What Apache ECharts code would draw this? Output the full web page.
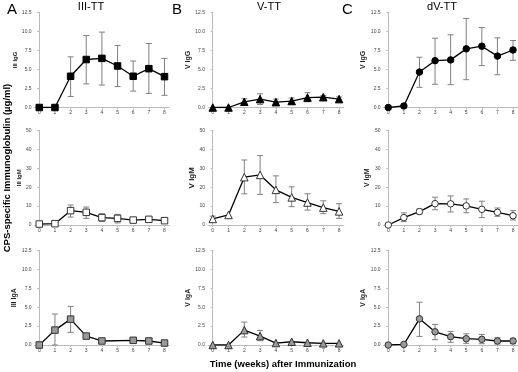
<!DOCTYPE html>
<html><head><meta charset="utf-8">
<script src="https://cdn.jsdelivr.net/npm/echarts@6/dist/echarts.min.js"></script>
<style>html,body{margin:0;padding:0;background:#fff}#c{width:518px;height:372px}</style>
</head><body><div id="c"></div>
<script>
const weeks = [0,1,2,3,4,5,6,7,8];
const panelLetters = ['A','B','C'];
const panelTitles = ['III-TT','V-TT','dV-TT'];
const yNames = [['III IgG','V IgG','V IgG'],['III IgM','V IgM','V IgM'],['III IgA','V IgA','V IgA']];
const xTickLabels = ['0','1','2','3','4','5','6','7','8'];

// Row 1: IgG
const iiiIgG    = [0,0,4.1,6.3,6.45,5.45,4.1,5.1,4.05];
const iiiIgG_hi = [0,0,6.65,9.45,9.9,8.15,6.1,8.4,6.45];
const iiiIgG_lo = [0,0,1.45,3.1,2.95,2.75,2.15,1.85,1.6];
const vIgG      = [0,0,0.75,1.1,0.7,0.85,1.3,1.35,1.1];
const vIgG_hi   = [0,0,1.15,1.8,1.1,1.25,1.95,1.55,1.4];
const vIgG_lo   = [0,0,0.4,0.4,0.35,0.4,0.75,1.15,0.75];
const dvIgG     = [0,0.2,4.65,6.15,6.25,7.7,8.05,6.75,7.55];
const dvIgG_hi  = [0,0.2,6.6,9.1,9.55,11.7,10.5,9.15,8.8];
const dvIgG_lo  = [0,0.2,2.65,3.05,3.0,3.65,5.5,4.3,6.2];
// Row 2: IgM
const iiiIgM    = [0.5,0.7,7.6,6.7,3.9,3.5,2.6,3.0,2.3];
const iiiIgM_hi = [0.5,0.7,10.6,9.5,6.0,5.6,3.9,4.4,2.3];
const iiiIgM_lo = [0.5,0.7,4.2,3.5,1.9,1.1,1.6,1.6,2.3];
const vIgM      = [3.2,5.3,25.3,26.5,18.6,14.6,11.9,9.2,7.2];
const vIgM_hi   = [4.7,5.3,34.4,36.7,26,20.2,16.5,12.8,11.3];
const vIgM_lo   = [2.1,5.3,16.5,16.2,11.8,9.7,7.9,6.0,3.5];
const dvIgM     = [0,3.9,7.1,11.3,11.2,10.1,8.3,6.7,4.9];
const dvIgM_hi  = [0,6.4,8.5,14.7,15.4,13.8,12.6,9.0,7.6];
const dvIgM_lo  = [0,1.8,5.9,8.1,6.9,6.5,3.9,4.6,2.7];
// Row 3: IgA
const iiiIgA    = [0,1.97,3.42,1.18,0.53,null,0.62,0.53,0.26];
const iiiIgA_hi = [0,4.1,5.1,1.18,0.53,null,0.62,0.53,0.26];
const iiiIgA_lo = [0,0,1.67,1.18,0.53,null,0.62,0.53,0.26];
const vIgA      = [0,0,1.97,1.18,0.26,0.43,0.3,0.22,0.22];
const vIgA_hi   = [0,0,3.03,1.93,0.26,0.43,0.3,0.22,0.22];
const vIgA_lo   = [0,0,1.05,0.57,0.26,0.43,0.3,0.22,0.22];
const dvIgA     = [0,0.08,3.46,1.75,1.1,0.83,0.75,0.53,0.53];
const dvIgA_hi  = [0,0.08,5.66,2.72,1.8,1.49,1.4,0.96,0.88];
const dvIgA_lo  = [0,0.08,1.14,0.7,0.35,0.22,0.17,0.13,0.17];

const panels = [
  [[iiiIgG,iiiIgG_hi,iiiIgG_lo],[vIgG,vIgG_hi,vIgG_lo],[dvIgG,dvIgG_hi,dvIgG_lo]],
  [[iiiIgM,iiiIgM_hi,iiiIgM_lo],[vIgM,vIgM_hi,vIgM_lo],[dvIgM,dvIgM_hi,dvIgM_lo]],
  [[iiiIgA,iiiIgA_hi,iiiIgA_lo],[vIgA,vIgA_hi,vIgA_lo],[dvIgA,dvIgA_hi,dvIgA_lo]]
];

const cols = [{left:34.6,width:134.6},{left:208,width:135.8},{left:383.6,width:134.1}];
const rows = [{top:12.3,height:95.2},{top:130.5,height:94.5},{top:250.5,height:94.5}];
const nameGaps = [[12,16,14],[12,11,13],[12,15,11]];
const nameSizes = [[6,7,7],[6,8,7],[7,7,7]];
const symbols = ['rect','triangle','circle'];
const symSizes = [6.5,7.5,6.5];
const rowFill = ['#000','#fff','#9a9a9a'];
const rowBorder = ['#000','#333','#333'];
const FONT = 'Liberation Sans, Arial, sans-serif';

const grid=[], xAxis=[], yAxis=[], series=[];
let k=0;
for (let r=0;r<3;r++){
  for (let c=0;c<3;c++){
    grid.push({left:cols[c].left, top:rows[r].top, width:cols[c].width, height:rows[r].height});
    xAxis.push({type:'value', gridIndex:k, min:-0.3, max:8.3,
      axisLine:{lineStyle:{color:'#bbb',width:1}},
      axisTick:{show:true, customValues:weeks, length:2, lineStyle:{color:'#bbb'}},
      axisLabel:{customValues:weeks, formatter:v=>xTickLabels[Math.round(v)], fontSize:5, color:'#444', margin:3, fontFamily:FONT},
      splitLine:{show:false}});
    const isM = r===1;
    yAxis.push({type:'value', gridIndex:k, min:0, max:isM?50:12.5, interval:isM?10:2.5,
      name:yNames[r][c], nameLocation:'middle', nameGap:nameGaps[r][c],
      nameTextStyle:{fontSize:nameSizes[r][c], fontWeight:'bold', color:'#222', fontFamily:FONT},
      axisLine:{show:true, lineStyle:{color:'#bbb',width:1}},
      axisTick:{show:true, length:2, lineStyle:{color:'#bbb'}},
      axisLabel:{fontSize:5, color:'#444', margin:3, fontFamily:FONT,
        formatter:v=> isM ? String(v) : v.toFixed(1)},
      splitLine:{show:false}});
    const [val,hi,lo] = panels[r][c];
    const errData=[], lineData=[];
    weeks.forEach((w,i)=>{
      if (val[i]===null) return;
      lineData.push([w,val[i]]);
      if (hi[i]-lo[i] > 0.05) errData.push([w,hi[i],lo[i]]);
    });
    series.push({type:'custom', xAxisIndex:k, yAxisIndex:k, z:1, silent:true,
      encode:{x:0,y:[1,2]}, data:errData,
      renderItem:function(params, api){
        const x=api.value(0), h=api.value(1), l=api.value(2);
        const a=api.coord([x,h]), b=api.coord([x,l]);
        const w=3, st={stroke:'#808080',lineWidth:1};
        return {type:'group',children:[
          {type:'line',shape:{x1:a[0],y1:a[1],x2:b[0],y2:b[1]},style:st},
          {type:'line',shape:{x1:a[0]-w,y1:a[1],x2:a[0]+w,y2:a[1]},style:st},
          {type:'line',shape:{x1:b[0]-w,y1:b[1],x2:b[0]+w,y2:b[1]},style:st}
        ]};
      }});
    series.push({type:'line', xAxisIndex:k, yAxisIndex:k, z:3, data:lineData,
      symbol:symbols[c], symbolSize:symSizes[c], showSymbol:true,
      lineStyle:{color:'#000', width:1.3},
      itemStyle:{color:rowFill[r], borderColor:rowBorder[r], borderWidth:1}});
    k++;
  }
}

const chart = echarts.init(document.getElementById('c'), null, {renderer:'canvas'});
chart.setOption({
  animation:false,
  backgroundColor:'#fff',
  grid, xAxis, yAxis, series,
  graphic:[
    {type:'text', left:7, top:2, style:{text:panelLetters[0], font:'15px '+FONT, fill:'#000'}},
    {type:'text', left:172, top:2, style:{text:panelLetters[1], font:'15px '+FONT, fill:'#000'}},
    {type:'text', left:342, top:2, style:{text:panelLetters[2], font:'15px '+FONT, fill:'#000'}},
    {type:'text', x:91, y:7, style:{text:panelTitles[0], font:'11px '+FONT, fill:'#000', align:'center', verticalAlign:'middle'}},
    {type:'text', x:269, y:7, style:{text:panelTitles[1], font:'11px '+FONT, fill:'#000', align:'center', verticalAlign:'middle'}},
    {type:'text', x:442, y:7, style:{text:panelTitles[2], font:'11px '+FONT, fill:'#000', align:'center', verticalAlign:'middle'}},
    {type:'text', x:7, y:168, rotation:Math.PI/2, style:{text:'CPS-specific Immunoglobulin (µg/ml)', font:'bold 9.5px '+FONT, fill:'#000', align:'center', verticalAlign:'middle'}},
    {type:'text', x:283, y:364, style:{text:'Time (weeks) after Immunization', font:'bold 9.5px '+FONT, fill:'#000', align:'center', verticalAlign:'middle'}}
  ]
});
</script></body></html>
